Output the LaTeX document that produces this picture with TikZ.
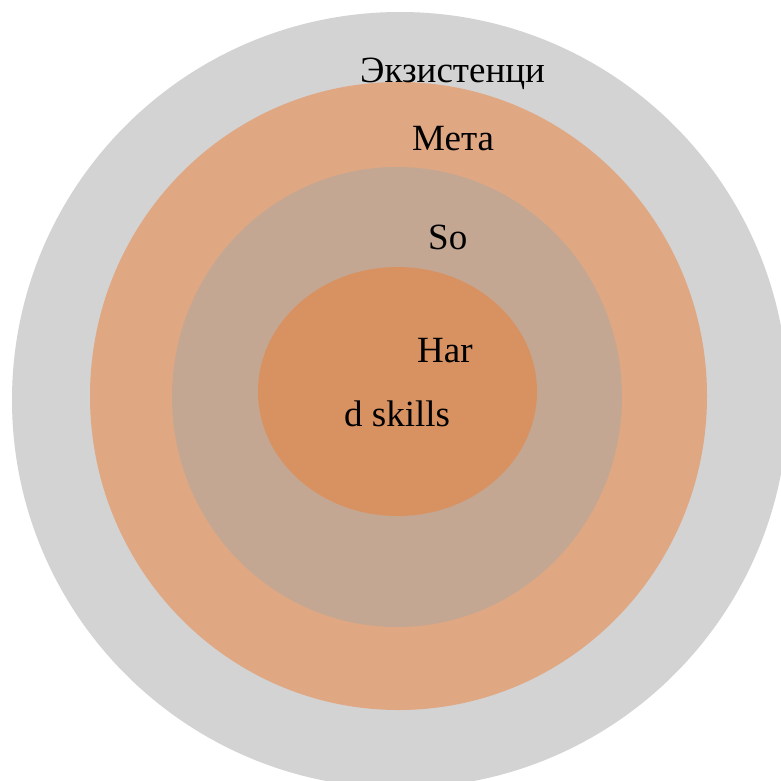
\documentclass[tikz,border=0pt]{standalone}
\usepackage{fontspec}
\setmainfont{Liberation Serif}
\definecolor{ringgray}{HTML}{D3D3D3}
\definecolor{ringorange}{HTML}{E0A783}
\definecolor{ringtan}{HTML}{C3A792}
\definecolor{ringcore}{HTML}{D89262}
\tikzset{lbl/.style={anchor=base west, inner sep=0pt, font=\fontsize{37}{44}\selectfont}}
\begin{document}
\begin{tikzpicture}[x=1pt,y=-1pt]
\useasboundingbox (0,0) rectangle (781,780);
\begin{scope}
\clip (0,0) rectangle (781,780);
\fill[ringgray] (400,400) ellipse [x radius=388, y radius=388];
\fill[ringorange] (398.5,396) ellipse [x radius=308.5, y radius=314];
\fill[ringtan] (397,397) ellipse [x radius=225, y radius=230];
\fill[ringcore] (397.5,391.5) ellipse [x radius=139.5, y radius=124.5];
\end{scope}
\node[lbl] (ex) at (360,82) {Экзистенци};
\node[lbl] (meta) at (412,150) {Мета};
\node[lbl] (so) at (428,249) {So};
\node[lbl] (har) at (417,362) {Har};
\node[lbl] (ds) at (344,426) {d skills};
\end{tikzpicture}
\end{document}
